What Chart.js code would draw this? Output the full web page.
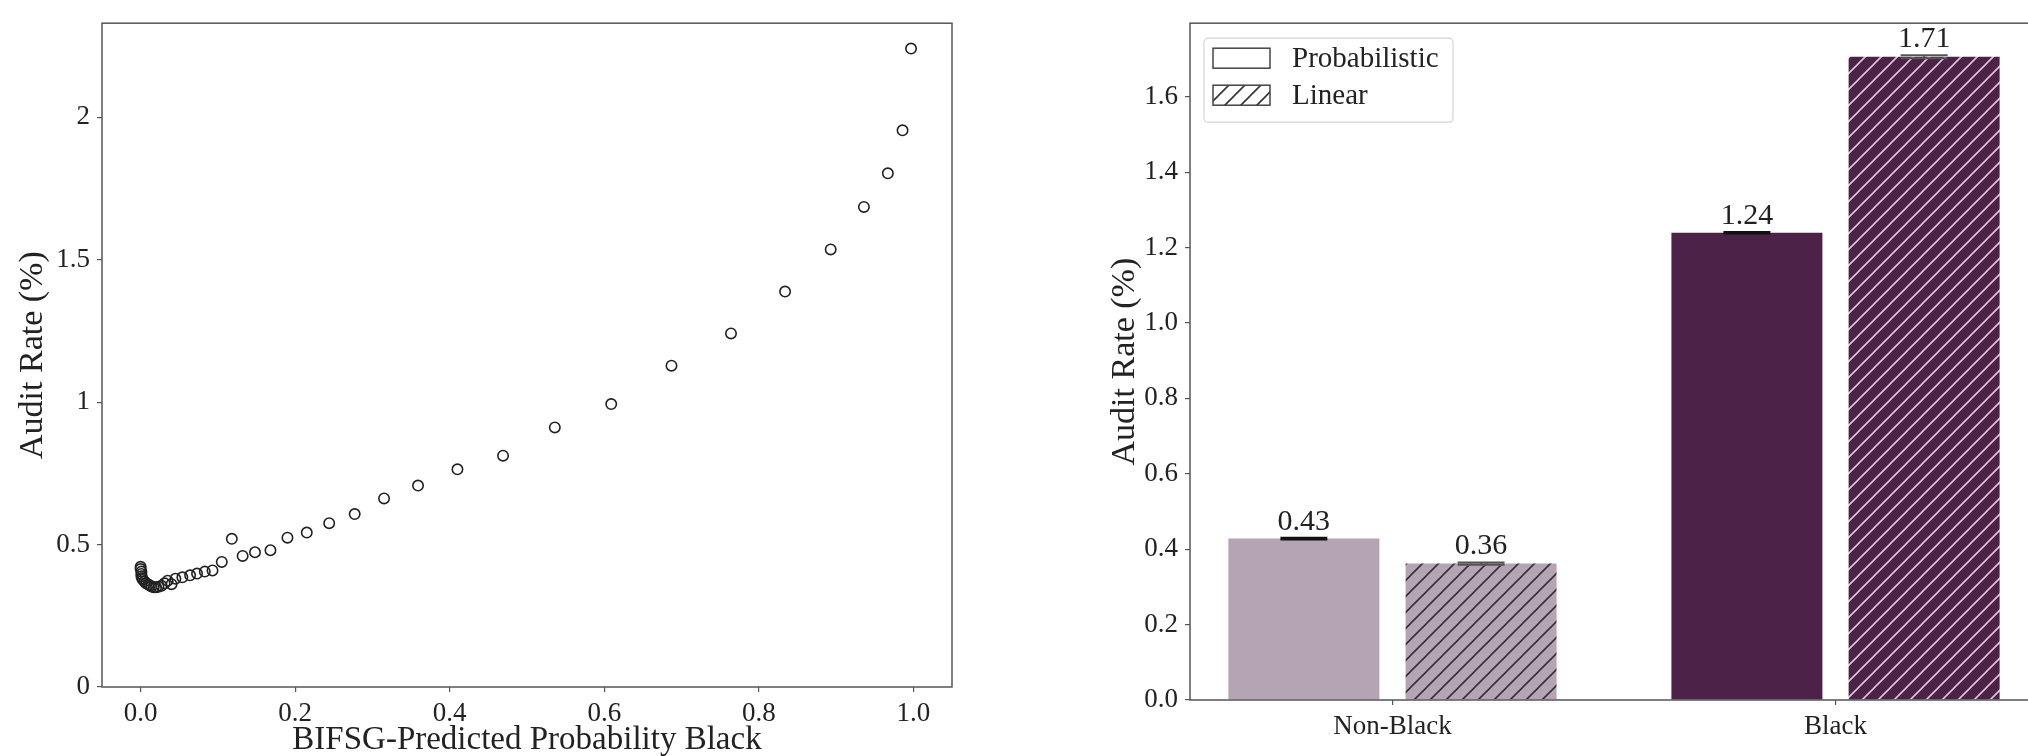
<!DOCTYPE html>
<html>
<head>
<meta charset="utf-8">
<script src="https://cdn.jsdelivr.net/npm/chart.js@4.4.0/dist/chart.umd.min.js"></script>
<style>
  html, body { margin: 0; padding: 0; background: #fff; overflow: hidden; }
  #left { position: absolute; left: 0; top: 0; width: 980px; height: 756px; }
  #rightClip { position: absolute; left: 1010px; top: 0; width: 1018px; height: 756px; overflow: hidden; }
  #right { position: absolute; left: 0; top: 0; width: 1060px; height: 756px; }
</style>
</head>
<body>
<div id="left"><canvas id="scatter"></canvas></div>
<div id="rightClip"><div id="right"><canvas id="bars"></canvas></div></div>
<script>
// left panel: binned audit rate vs predicted probability
const probBlack = [0.000, 0.000, 0.001, 0.001, 0.001, 0.002, 0.003, 0.005, 0.007, 0.010,
                   0.012, 0.014, 0.017, 0.020, 0.023, 0.027, 0.031, 0.035, 0.040, 0.045,
                   0.054, 0.064, 0.073, 0.083, 0.093, 0.105, 0.118, 0.132, 0.148, 0.168,
                   0.190, 0.215, 0.244, 0.277, 0.315, 0.359, 0.410, 0.469, 0.536, 0.609,
                   0.687, 0.764, 0.834, 0.893, 0.936, 0.967, 0.986, 0.997];
const auditRate = [0.422, 0.414, 0.405, 0.397, 0.389, 0.382, 0.376, 0.370, 0.364, 0.360,
                   0.356, 0.353, 0.350, 0.350, 0.352, 0.355, 0.364, 0.373, 0.361, 0.380,
                   0.385, 0.392, 0.398, 0.405, 0.409, 0.439, 0.520, 0.460, 0.473, 0.480,
                   0.524, 0.542, 0.575, 0.607, 0.662, 0.707, 0.764, 0.812, 0.911, 0.993,
                   1.128, 1.241, 1.388, 1.536, 1.685, 1.803, 1.954, 2.241];

// right panel: audit rate by group
const groups = ['Non-Black', 'Black'];
const seriesNames = ['Probabilistic', 'Linear'];
const probabilisticRate = [0.428, 1.239];
const linearRate = [0.362, 1.706];
const probabilisticErr = [0.002, 0.002];
const linearErr = [0.003, 0.004];

const FONT = "'Liberation Serif', 'Times New Roman', serif";
const TEXT = '#222';
const AXIS = '#555';
const LIGHT = '#b4a4b4';
const DARK = '#4d2248';

function hatch(bg, line) {
    const s = 16;
    const c = document.createElement('canvas');
    c.width = s; c.height = s;
    const g = c.getContext('2d');
    g.fillStyle = bg;
    g.fillRect(0, 0, s, s);
    g.strokeStyle = line;
    g.lineWidth = 1.6;
    g.beginPath();
    g.moveTo(0, s); g.lineTo(s, 0);
    g.moveTo(-s / 2, s / 2); g.lineTo(s / 2, -s / 2);
    g.moveTo(s / 2, s * 1.5); g.lineTo(s * 1.5, s / 2);
    g.stroke();
    return g.createPattern(c, 'repeat');
}

// box around the plot area
const frame = {
    id: 'frame',
    afterDraw(chart) {
        const { ctx, chartArea: a } = chart;
        ctx.save();
        ctx.strokeStyle = AXIS;
        ctx.lineWidth = 1.5;
        ctx.strokeRect(a.left, a.top, a.right - a.left, a.bottom - a.top);
        ctx.restore();
    }
};

const tickGrid = { drawOnChartArea: false, drawTicks: true, tickLength: 5, color: AXIS, lineWidth: 1.2, offset: false };

new Chart(document.getElementById('scatter'), {
    type: 'scatter',
    data: {
        datasets: [{
            data: probBlack.map((x, i) => ({ x: x, y: auditRate[i] })),
            pointRadius: 5.2,
            pointBorderWidth: 1.6,
            pointBorderColor: '#222',
            pointBackgroundColor: 'rgba(0,0,0,0)'
        }]
    },
    options: {
        responsive: true,
        maintainAspectRatio: false,
        animation: false,
        events: [],
        layout: { padding: { left: 0, right: 28, top: 13, bottom: 0 } },
        plugins: { legend: { display: false }, tooltip: { enabled: false } },
        scales: {
            x: {
                type: 'linear', min: -0.05, max: 1.05,
                border: { display: false },
                grid: tickGrid,
                ticks: { stepSize: 0.2, includeBounds: false, padding: 6, color: TEXT,
                         font: { family: FONT, size: 27 }, callback: v => v.toFixed(1) },
                title: { display: true, text: 'BIFSG-Predicted Probability Black', color: TEXT,
                         font: { family: FONT, size: 33, lineHeight: 1 }, padding: { top: 0, bottom: -1 } },
                afterFit(s) { s.height = 69; }
            },
            y: {
                type: 'linear', min: 0, max: 2.33,
                border: { display: false },
                grid: tickGrid,
                ticks: { stepSize: 0.5, includeBounds: false, padding: 7, color: TEXT,
                         font: { family: FONT, size: 27 }, callback: v => String(v) },
                title: { display: true, text: 'Audit Rate (%)', color: TEXT,
                         font: { family: FONT, size: 34, lineHeight: 1 }, padding: { top: 16, bottom: 0 } },
                afterFit(s) { s.width = 102; }
            }
        }
    },
    plugins: [frame]
});

// bar labels and error bars
const barExtras = {
    id: 'barExtras',
    afterDatasetsDraw(chart) {
        const { ctx } = chart;
        const yScale = chart.scales.y;
        const errs = [probabilisticErr, linearErr];
        const capColor = ['#111', '#555'];
        ctx.save();
        chart.data.datasets.forEach((ds, d) => {
            chart.getDatasetMeta(d).data.forEach((bar, i) => {
                const v = ds.data[i].y;
                const e = errs[d][i];
                const hi = yScale.getPixelForValue(v + e);
                const lo = yScale.getPixelForValue(v - e);
                ctx.strokeStyle = capColor[d];
                ctx.lineWidth = 2;
                ctx.beginPath();
                ctx.moveTo(bar.x - 23.5, hi); ctx.lineTo(bar.x + 23.5, hi);
                ctx.moveTo(bar.x - 23.5, lo); ctx.lineTo(bar.x + 23.5, lo);
                ctx.moveTo(bar.x, hi); ctx.lineTo(bar.x, lo);
                ctx.stroke();
                ctx.fillStyle = TEXT;
                ctx.font = '30px ' + FONT;
                ctx.textAlign = 'center';
                ctx.textBaseline = 'alphabetic';
                ctx.fillText(v.toFixed(2), bar.x, hi - 8);
            });
        });
        ctx.restore();
    }
};

// legend drawn inside the plot area
const boxLegend = {
    id: 'boxLegend',
    afterDraw(chart) {
        const { ctx, chartArea: a } = chart;
        const x = a.left + 14, y = a.top + 15, w = 249, h = 84;
        ctx.save();
        ctx.fillStyle = 'rgba(255,255,255,0.85)';
        ctx.strokeStyle = '#d4d4d4';
        ctx.lineWidth = 1.2;
        ctx.beginPath();
        ctx.roundRect(x, y, w, h, 4);
        ctx.fill();
        ctx.stroke();
        const fills = ['#fff', hatch('#fff', '#333')];
        seriesNames.forEach((name, k) => {
            const cy = a.top + 35 + k * 37;
            ctx.fillStyle = fills[k];
            ctx.fillRect(a.left + 23, cy - 10, 57, 20);
            ctx.strokeStyle = '#444';
            ctx.lineWidth = 1.5;
            ctx.strokeRect(a.left + 23, cy - 10, 57, 20);
            ctx.fillStyle = TEXT;
            ctx.font = '29px ' + FONT;
            ctx.textAlign = 'left';
            ctx.textBaseline = 'middle';
            ctx.fillText(name, a.left + 102, cy + 1);
        });
        ctx.restore();
    }
};

new Chart(document.getElementById('bars'), {
    type: 'bar',
    data: {
        datasets: [{
            label: seriesNames[0],
            data: probabilisticRate.map((v, i) => ({ x: i, y: v })),
            backgroundColor: [LIGHT, DARK],
            borderWidth: 0,
            categoryPercentage: 0.8,
            barPercentage: 0.852
        }, {
            label: seriesNames[1],
            data: linearRate.map((v, i) => ({ x: i, y: v })),
            backgroundColor: [hatch(LIGHT, '#333'), hatch(DARK, '#dcc8d8')],
            borderWidth: 0,
            categoryPercentage: 0.8,
            barPercentage: 0.852
        }]
    },
    options: {
        responsive: true,
        maintainAspectRatio: false,
        animation: false,
        events: [],
        layout: { padding: { left: 0, right: 32, top: 22, bottom: 0 } },
        plugins: { legend: { display: false }, tooltip: { enabled: false } },
        scales: {
            x: {
                type: 'linear', min: -0.457, max: 1.457,
                offset: false,
                border: { display: false },
                grid: tickGrid,
                afterBuildTicks(s) { s.ticks = groups.map((g, i) => ({ value: i })); },
                ticks: { padding: 6, color: TEXT, font: { family: FONT, size: 27 },
                         callback: v => groups[Math.round(v)] },
                afterFit(s) { s.height = 56; }
            },
            y: {
                min: 0, max: 1.795,
                border: { display: false },
                grid: tickGrid,
                ticks: { stepSize: 0.2, includeBounds: false, padding: 7, color: TEXT,
                         font: { family: FONT, size: 27 }, callback: v => v.toFixed(1) },
                title: { display: true, text: 'Audit Rate (%)', color: TEXT,
                         font: { family: FONT, size: 34, lineHeight: 1 }, padding: { top: 98, bottom: 0 } },
                afterFit(s) { s.width = 180; }
            }
        }
    },
    plugins: [frame, barExtras, boxLegend]
});
</script>
</body>
</html>
